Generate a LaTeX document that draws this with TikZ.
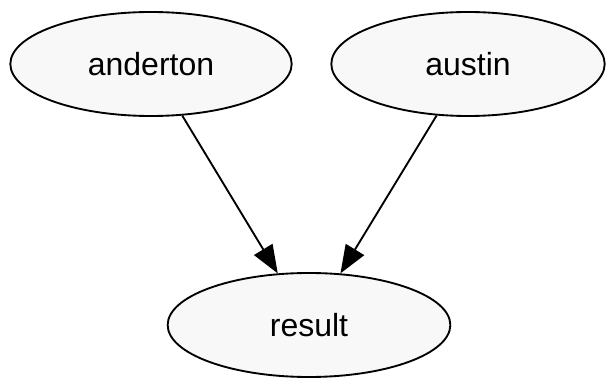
\documentclass[tikz,border=0pt]{standalone}
\usepackage{fontspec}
\setmainfont{Liberation Sans}
\usepackage{xcolor}
\usepackage{tikz}
\usetikzlibrary{shapes.geometric, arrows.meta, positioning}
\definecolor{nodefill}{HTML}{F8F8F8}
\tikzstyle{vertex} = [
    ellipse,
    minimum width=211pt,
    minimum height=78pt,
    inner sep=0pt,
    text centered,
    font=\fontsize{24}{28}\selectfont,
    line width=1.4pt,
    draw=black,
    fill=nodefill
]
\tikzset{
    >={Triangle[length=21pt,width=16pt]}
}
\tikzstyle{arrow} = [
    line width=1.4pt,
    ->,
    draw=black
]

\begin{document}
\begin{tikzpicture}[x=0.75pt, y=-0.75pt]

\useasboundingbox (0,0) rectangle (606,381);

% Nodes
\node (anderton) [vertex] at (151,64) {anderton};

\node (austin) [vertex, minimum width=205pt] at (468,64) {austin};

\node (result) [vertex, minimum width=212pt] at (309,325) {result};

% Arrows
\draw [arrow] (anderton) -- (result);

\draw [arrow] (austin) -- (result);

\end{tikzpicture}
\end{document}
